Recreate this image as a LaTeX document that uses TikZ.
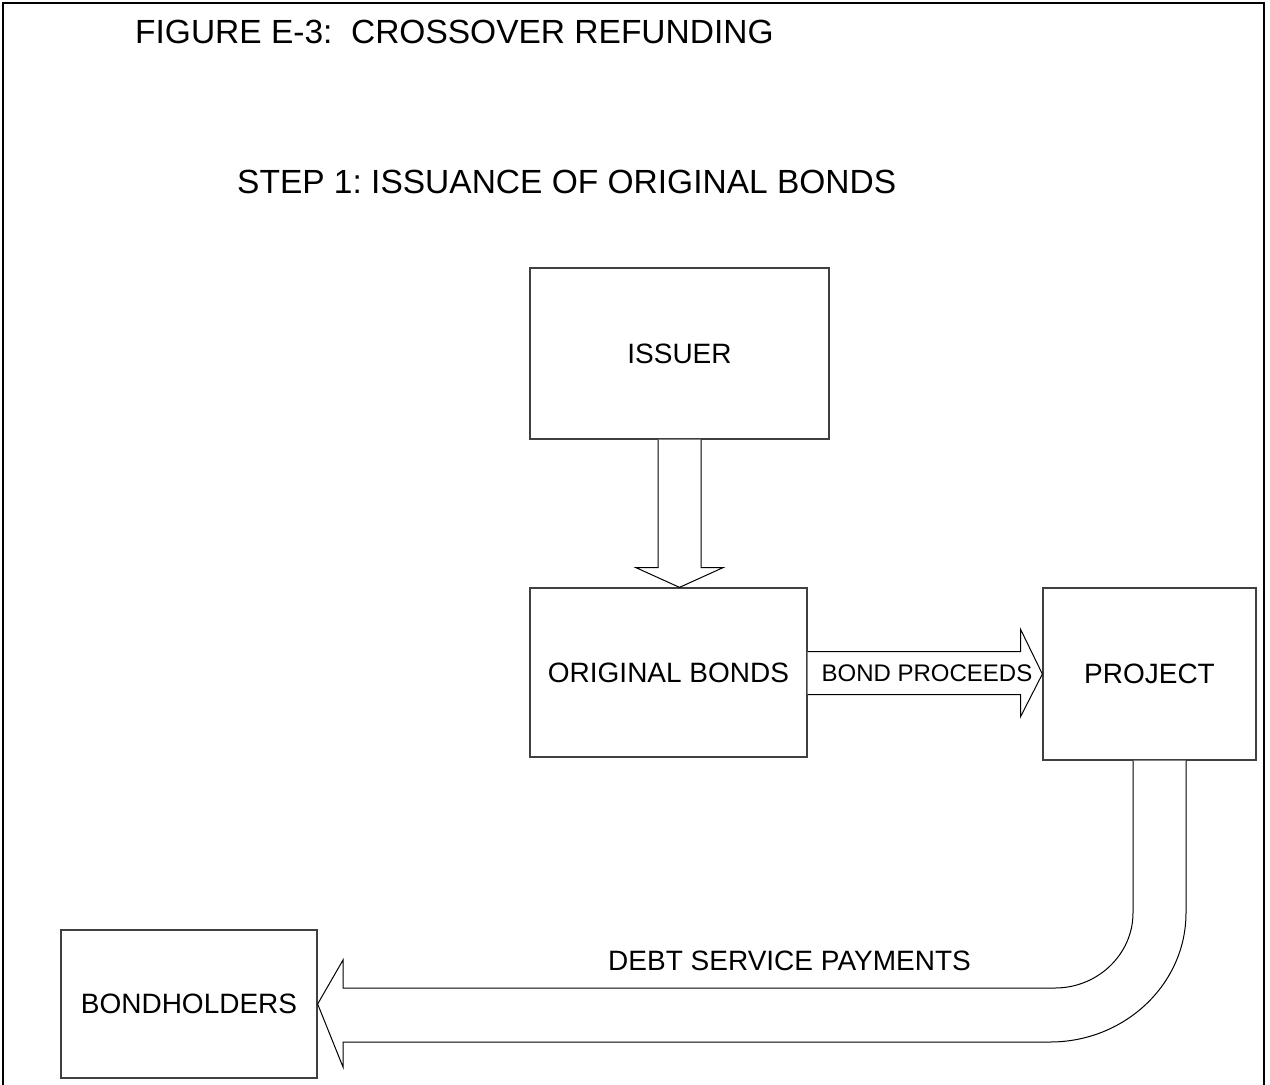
\documentclass[tikz,border=0pt]{standalone}
\usepackage{fontspec}
\setmainfont{Liberation Sans}
\usetikzlibrary{calc}
\frenchspacing
\tikzset{
  boxnode/.style={draw=black!75, line width=1.3pt, inner sep=0pt, font=\fontsize{28}{32}\selectfont},
  blockarrow/.style={draw=black, line width=1pt, fill=white, line join=miter},
  titletext/.style={anchor=base west, inner sep=0pt, font=\fontsize{33.5}{40}\selectfont},
  labeltext/.style={inner sep=0pt, font=\fontsize{28}{32}\selectfont},
  smalltext/.style={inner sep=0pt, font=\fontsize{24}{28}\selectfont}
}
\begin{document}
\begin{tikzpicture}[x=1pt,y=-1pt]
\useasboundingbox (0,0) rectangle (1270,1085);
% frame
\draw[line width=2.6pt] (3,1090) -- (3,3) -- (1264,3) -- (1264,1090);
% titles
\node[titletext] (title) at (135,43) {FIGURE E-3:\ \ CROSSOVER REFUNDING};
\node[titletext] (step) at (237,193) {STEP 1: ISSUANCE OF ORIGINAL BONDS};
% boxes
\node[boxnode, minimum width=299pt, minimum height=171pt] (issuer) at (679.5,353.5) {ISSUER};
\node[boxnode, minimum width=277pt, minimum height=169pt] (orig) at (668.5,672.5) {ORIGINAL BONDS};
\node[boxnode, minimum width=213pt, minimum height=172pt] (project) at (1149.5,674) {PROJECT};
\node[boxnode, minimum width=256pt, minimum height=148pt] (bond) at (189,1004) {BONDHOLDERS};
% down arrow issuer -> original bonds
\draw[blockarrow]
  ($(issuer.south)+(-21.5,0)$) -- ($(issuer.south)+(-21.5,128)$) -- ($(issuer.south)+(-43.5,128)$)
  -- (orig.north -| issuer.south) -- ($(issuer.south)+(43.5,128)$) -- ($(issuer.south)+(21.5,128)$)
  -- ($(issuer.south)+(21.5,0)$);
% right arrow original bonds -> project
\draw[blockarrow]
  ($(orig.east)+(0,-21)$) -- ($(orig.east)+(213,-21)$) -- ($(orig.east)+(213,-43)$)
  -- (project.west) -- ($(orig.east)+(213,44)$) -- ($(orig.east)+(213,22)$)
  -- ($(orig.east)+(0,22)$);
\node[smalltext] (proc) at (927,673) {BOND PROCEEDS};
% curved arrow project -> bondholders
\coordinate (pin) at ($(project.south)+(-16.5,0)$);
\coordinate (pout) at ($(project.south)+(36.5,0)$);
\draw[blockarrow]
  (pin) -- (1133,913) .. controls (1133,954) and (1098,988) .. (1055,988)
  -- (343,988) -- (343,960) -- (bond.east) -- (343,1067) -- (343,1042)
  -- (1050,1042) .. controls (1125,1042) and (1186,984) .. (1186,913) -- (pout);
\node[labeltext, anchor=base] (dsp) at (789.5,970) {DEBT SERVICE PAYMENTS};
\end{tikzpicture}
\end{document}
